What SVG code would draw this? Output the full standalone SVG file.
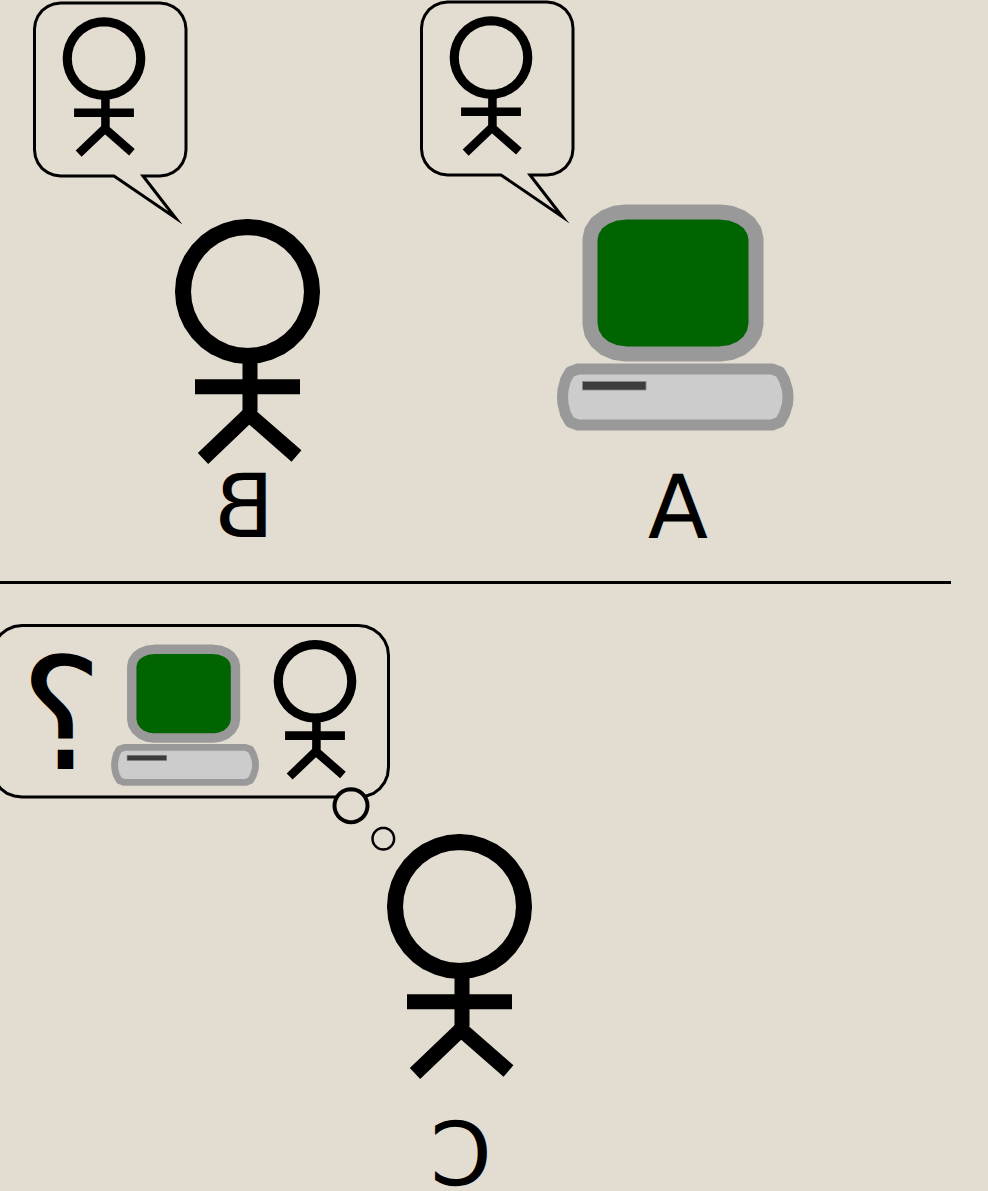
<svg xmlns="http://www.w3.org/2000/svg" width="988" height="1191" viewBox="0 0 988 1191">
<style>
.t{font-family:"DejaVu Sans",sans-serif;font-size:88px;fill:#000;text-anchor:middle;text-rendering:geometricPrecision;opacity:.999}
.b{fill:none;stroke:#000;stroke-width:3;stroke-linejoin:miter;stroke-miterlimit:30}
.bg{fill:#e3ddd1}
</style>
<defs>
<path id="ring" stroke-linejoin="round" d="M64.500,0L63.520,11.200L60.610,22.060L55.860,32.250L49.410,41.460L41.460,49.410L32.250,55.860L22.060,60.610L11.200,63.520L0,64.500L-11.200,63.520L-22.060,60.610L-32.250,55.860L-41.460,49.410L-49.410,41.460L-55.860,32.250L-60.610,22.060L-63.520,11.200L-64.500,0L-63.520,-11.200L-60.610,-22.060L-55.860,-32.250L-49.410,-41.460L-41.460,-49.410L-32.250,-55.860L-22.060,-60.610L-11.200,-63.520L0,-64.500L11.200,-63.520L22.060,-60.610L32.250,-55.860L41.460,-49.410L49.410,-41.460L55.860,-32.250L60.610,-22.060L63.520,-11.200Z"/>
<path id="speech" class="b" d="M34.500,29L35.400,22.300L38,16L42.100,10.600L47.500,6.500L53.800,3.900L60.500,3H160L166.700,3.900L173,6.500L178.400,10.600L182.500,16L185.100,22.300L186,29V150L185.100,156.700L182.500,163L178.400,168.400L173,172.500L166.700,175.100L160,176H143L175.500,218L114,176H60.500L53.800,175.100L47.500,172.500L42.100,168.400L38,163L35.400,156.700L34.500,150Z"/>
<g id="person" fill="none" stroke="#000">
<use href="#ring" stroke-width="16"/>
<path d="M2.500,68V120" stroke-width="15"/>
<path d="M-52.500,95.300H52.500" stroke-width="15"/>
<path d="M-44.500,167L1.500,123L49,164.500" stroke-width="15"/>
</g>
<g id="computer">
<path d="M590,239L591.800,230.700L596.900,223.100L604.800,217.200L614.900,213.300L626,212H720L731.100,213.300L741.200,217.200L749.100,223.100L754.200,230.700L756,239V324L754.200,333.300L749.100,341.600L741.200,348.300L731.100,352.500L720,354H626L614.900,352.500L604.800,348.300L596.900,341.600L591.800,333.300L590,324Z" fill="#006400" stroke="#999" stroke-width="15" stroke-linejoin="round"/>
<path d="M578,369L570,372L565.500,380L563,390L562.500,397L563,404L565.500,414L570,422L578,425H772L780,422L784.500,414L787.500,404L788,397L787.500,390L784.500,380L780,372L772,369Z" fill="#ccc" stroke="#999" stroke-width="11" stroke-linejoin="round"/>
<rect x="582.500" y="381.500" width="63.500" height="8.500" fill="#3c3c3c" stroke="#888" stroke-width="0.800"/>
</g>
</defs>
<rect class="bg" x="0" y="0" width="988" height="1191"/>
<g id="divider"><path d="M0,582.500H951" stroke="#000" stroke-width="3" fill="none"/></g>
<g id="node-b">
<g id="b-bubble">
<use href="#speech"/>
<use href="#person" transform="translate(104,58.500) scale(0.57)"/>
</g>
<use href="#person" transform="translate(247.500,291.500)"/>
<text class="t" transform="translate(244,537) scale(-1,1)">B</text>
</g>
<g id="node-a">
<g id="a-bubble">
<use href="#speech" transform="translate(387,-1)"/>
<use href="#person" transform="translate(491,57.500) scale(0.57)"/>
</g>
<use href="#computer"/>
<text class="t" transform="translate(678,538) scale(-1,1)">A</text>
</g>
<g id="node-c">
<g id="c-thought">
<path class="b" d="M358.500,625.500L366.300,626.500L373.500,629.500L379.700,634.300L384.500,640.500L387.500,647.700L388.500,655.500V767L387.500,775.300L384.500,782.500L379.700,788.700L373.500,793.500L366.300,796L358.500,797H22L14.200,796L7,793.500L0.800,788.700L-4,782.500L-7,775.300L-8,767V655.500L-7,647.700L-4,640.500L0.800,634.300L7,629.500L14.200,626.500L22,625.500Z"/>
<use href="#ring" class="bg" stroke="#000" stroke-width="15.600" transform="translate(351,805.700) scale(0.2558)"/>
<use href="#ring" class="bg" stroke="#000" stroke-width="14.900" transform="translate(383.300,838.700) scale(0.1674)"/>
<use href="#person" transform="translate(315,681.300) scale(0.57)"/>
<use href="#computer" transform="translate(-237,516.800) scale(0.625)"/>
<text class="t" style="font-size:156px" transform="translate(61.700,769) scale(-1,1)">?</text>
</g>
<use href="#person" transform="translate(459.500,906.500)"/>
<text class="t" transform="translate(461,1184.500) scale(-1,1)">C</text>
</g>
</svg>
